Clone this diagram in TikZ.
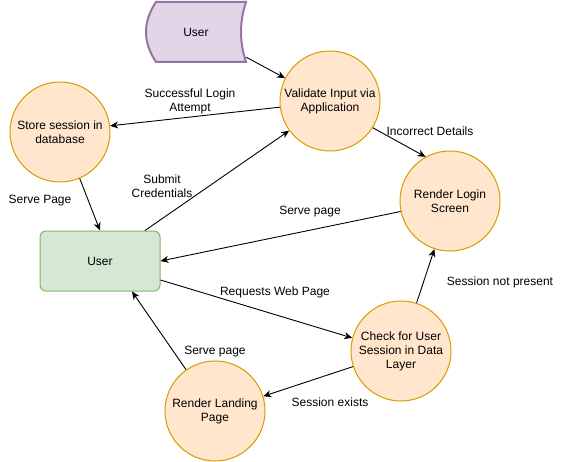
\documentclass[tikz,border=0pt]{standalone}
\usepackage{fontspec}
\setmainfont{Liberation Sans}
\usetikzlibrary{arrows.meta}

\definecolor{process fill}{HTML}{FFE6CC}
\definecolor{process line}{HTML}{D79B00}
\definecolor{client fill}{HTML}{D5E8D4}
\definecolor{client line}{HTML}{82B366}
\definecolor{store fill}{HTML}{E1D5E7}
\definecolor{store line}{HTML}{9673A6}

\begin{document}
\begin{tikzpicture}[x=1pt,y=-1pt,
    every node/.style={font=\fontsize{12}{14}\selectfont,align=center},
    process/.style={circle,minimum size=100pt,inner sep=0pt,draw=process line,fill=process fill,line width=1pt},
    flow/.style={-{Stealth[length=8pt,width=7pt,inset=2.5pt]},line width=0.9pt}]
  \useasboundingbox (0,0) rectangle (561,462);

  % data store shape
  \draw[draw=store line,fill=store fill,line width=2pt] (156,2) -- (246,2) .. controls (239.33,22) and (239.33,42) .. (246,62) -- (156,62) .. controls (142.67,42) and (142.67,22) .. (156,2) -- cycle;
  \node[minimum width=100pt,minimum height=60pt,inner sep=0pt] (user data) at (196,32) {User};

  \node[process] (validate input) at (330,101) {Validate Input via\\Application};
  \node[process] (store session) at (60,132) {Store session in\\database};
  \node[process] (render login) at (450,201) {Render Login\\Screen};
  \node[process] (check session) at (401,351) {Check for User\\Session in Data\\Layer};
  \node[process] (render landing) at (215,411) {Render Landing\\Page};
  \node[rectangle,rounded corners=6pt,minimum width=120pt,minimum height=60pt,draw=client line,fill=client fill,line width=1pt] (user) at (100,261) {User};

  % connectors
  \draw[flow] ([yshift=5pt]user data.south east) -- (validate input.153);
  \draw[flow] (validate input.187) -- (store session.7);
  \draw[flow] (store session.293) -- (user.north);
  \draw[flow] ([xshift=45pt]user.north) -- (validate input.216);
  \draw[flow] (validate input.328) -- (render login.119);
  \draw[flow] (render login.192) -- (user.east);
  \draw[flow] ([yshift=-19pt]user.east) -- (check session.165);
  \draw[flow] (check session.72) -- (render login.252);
  \draw[flow] (check session.198) -- (render landing.17);
  \draw[flow] (render landing.125) -- ([xshift=32pt]user.south);

  % labels
  \node (successful label) at (190,101) {Successful Login\\Attempt};
  \node (serve label one) at (40,201) {Serve Page};
  \node (submit label) at (162,186) {Submit\\Credentials};
  \node (incorrect label) at (430,131) {Incorrect Details};
  \node (serve label two) at (310,212) {Serve page};
  \node (requests label) at (275,292) {Requests Web Page};
  \node (not present label) at (500,282) {Session not present};
  \node (exists label) at (330,402) {Session exists};
  \node (serve label three) at (215,352) {Serve page};
\end{tikzpicture}
\end{document}
